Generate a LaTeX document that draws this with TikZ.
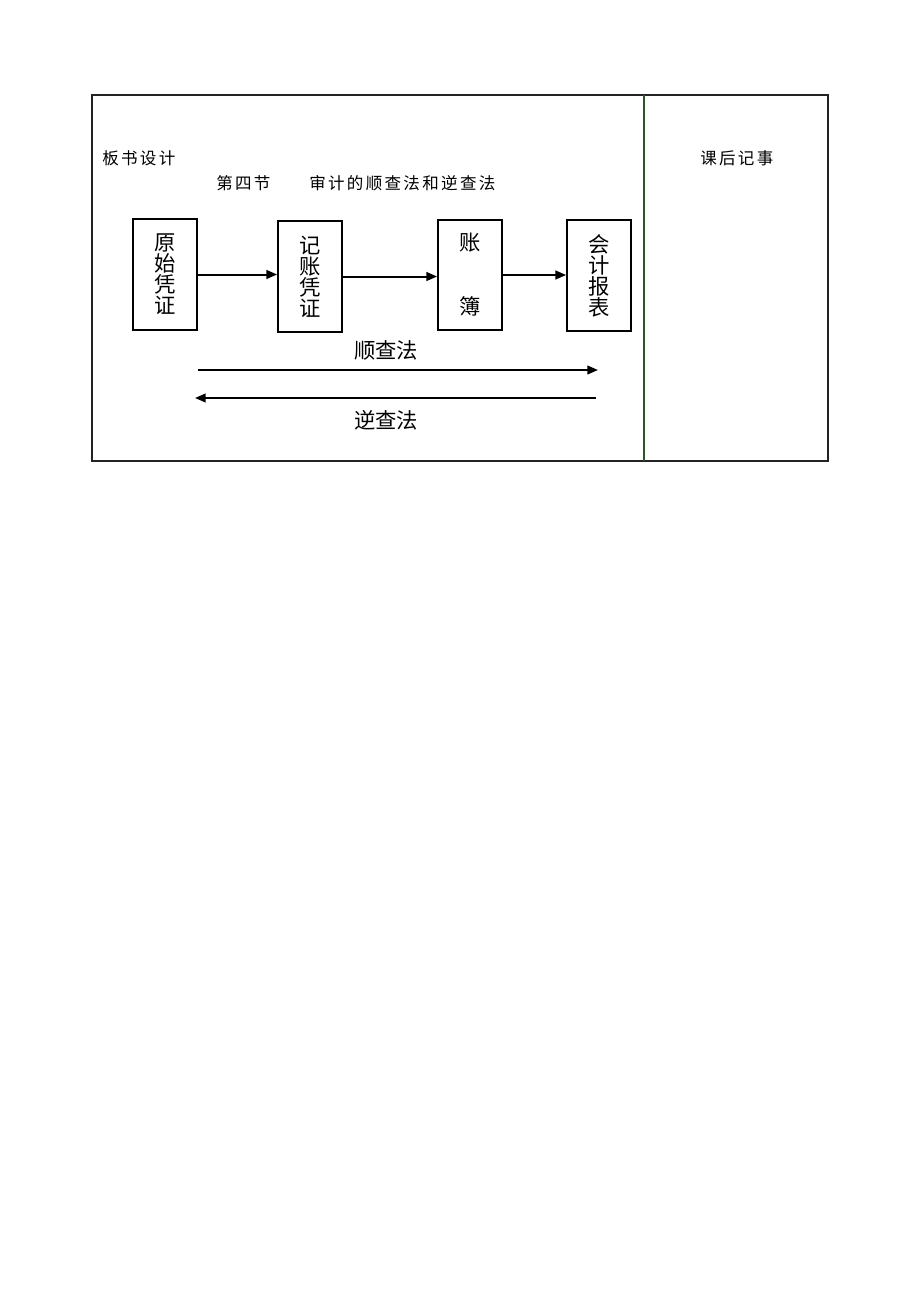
\documentclass[tikz,border=0pt]{standalone}
\usepackage{fontspec}
\setmainfont{Noto Sans CJK SC}
\newfontfamily\cjkhead[LetterSpace=14]{Noto Sans CJK SC}
\usetikzlibrary{positioning,arrows.meta}
\definecolor{tablegray}{RGB}{35,35,35}
\definecolor{tablegreen}{RGB}{45,85,45}

\begin{document}
\begin{tikzpicture}[x=0.75pt, y=-0.75pt, font=\fontsize{16}{15.75}\selectfont,
    box/.style={draw, line width=1.3pt, minimum width=48pt, minimum height=83pt, inner sep=0pt, align=center},
    flow/.style={line width=1.5pt, -{Triangle[length=8pt,width=6.5pt]}},
    head/.style={inner sep=0pt, anchor=west, font=\cjkhead\fontsize{12.4}{12.4}\selectfont}]
        \useasboundingbox (0,0) rectangle (920,1300);
        \draw[tablegray, line width=0.8pt] (92,95) rectangle (828,461);
        \draw[tablegreen, line width=0.8pt] (644,95) -- (644,461);
        
        \node[head] (bsjs) at (102,158) {板书设计};
        \node[head] (khjs) at (700,158) {课后记事};
        \node[head] (title) at (216,183) {第四节};
        \node[head] (subtitle) at (309,183) {审计的顺查法和逆查法};
        
        \node[box] (yspz) at (165,274.5) {原\\始\\凭\\证};
        \node[box] (jzpz) at (310,276.5) {记\\账\\凭\\证};
        \node[box] (zb) at (470,275) {账\\[32.25pt]簿};
        \node[box] (kjbb) at (599,275.5) {会\\计\\报\\表};
        
        \draw[flow] (yspz.east) -- (yspz.east -| jzpz.west);
        \draw[flow] (jzpz.east) -- (jzpz.east -| zb.west);
        \draw[flow] (zb.east) -- (zb.east -| kjbb.west);
        
        \coordinate (sfL) at (198,370);
        \coordinate (sfR) at (598,370);
        \coordinate (nfR) at (596,398);
        \coordinate (nfL) at (195,398);
        \draw[flow] (sfL) -- (sfR);
        \draw[flow] (nfR) -- (nfL);
        \node (scf) at (386,350) {顺查法};
        \node (ncf) at (386,420) {逆查法};
\end{tikzpicture}
\end{document}
